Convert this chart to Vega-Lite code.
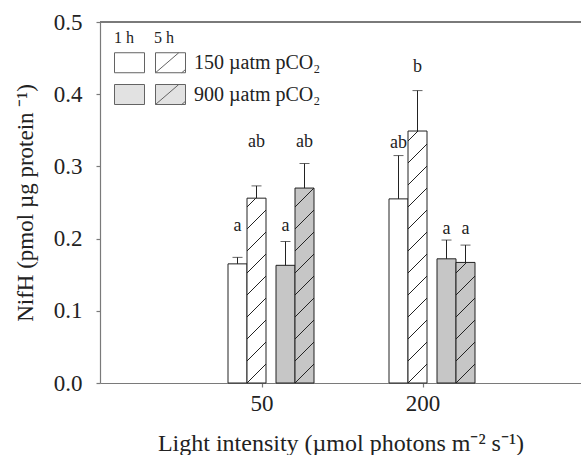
{
  "$schema": "https://vega.github.io/schema/vega-lite/v6.json",
  "width": 481,
  "height": 361,
  "autosize": {"type": "none"},
  "padding": {"left": 100, "top": 22, "right": 0, "bottom": 72},
  "background": "white",
  "config": {
    "view": {"stroke": null},
    "axis": {
      "domainColor": "#7a7a7a", "tickColor": "#7a7a7a", "tickSize": 4, "domainWidth": 1.2, "tickWidth": 1.2,
      "labelFont": "Liberation Serif", "labelFontSize": 23, "labelColor": "#222222",
      "titleFont": "Liberation Serif", "titleFontSize": 23, "titleFontWeight": "normal", "titleColor": "#222222",
      "grid": false
    }
  },
  "data": {"values": [
    {"light": "50", "co2": "150", "time": "1h", "group": "150_1", "value": 0.165, "upper": 0.174, "letter": "a", "ly": 0.21},
    {"light": "50", "co2": "150", "time": "5h", "group": "150_5", "value": 0.256, "upper": 0.273, "letter": "ab", "ly": 0.327},
    {"light": "50", "co2": "900", "time": "1h", "group": "900_1", "value": 0.163, "upper": 0.196, "letter": "a", "ly": 0.21},
    {"light": "50", "co2": "900", "time": "5h", "group": "900_5", "value": 0.270, "upper": 0.304, "letter": "ab", "ly": 0.327},
    {"light": "200", "co2": "150", "time": "1h", "group": "150_1", "value": 0.255, "upper": 0.315, "letter": "ab", "ly": 0.326},
    {"light": "200", "co2": "150", "time": "5h", "group": "150_5", "value": 0.349, "upper": 0.405, "letter": "b", "ly": 0.431},
    {"light": "200", "co2": "900", "time": "1h", "group": "900_1", "value": 0.172, "upper": 0.198, "letter": "a", "ly": 0.207},
    {"light": "200", "co2": "900", "time": "5h", "group": "900_5", "value": 0.167, "upper": 0.191, "letter": "a", "ly": 0.207}
  ]},
  "layer": [
    {
      "transform": [{"filter": "datum.co2 == '150'"}],
      "encoding": {
        "x": {"field": "light", "type": "nominal", "sort": ["50", "200"], "scale": {"paddingInner": 0, "paddingOuter": 0.4938, "align": 0.5126}, "axis": {"labelAngle": 0, "labelPadding": 5, "titlePadding": 16, "titleFontSize": 24}, "title": "Light intensity (µmol photons m⁻² s⁻¹)"},
        "y": {"field": "value", "type": "quantitative", "scale": {"domain": [0, 0.5], "nice": false, "zero": true}, "axis": {"values": [0, 0.1, 0.2, 0.3, 0.4, 0.5], "format": ".1f", "labelPadding": 14, "titlePadding": 16}, "title": "NifH (pmol µg protein ⁻¹)"},
        "xOffset": {"field": "time", "type": "nominal", "scale": {"domain": ["1h", "5h"], "range": [46.5, 84.5]}}
      },
      "layer": [
        {"transform": [{"filter": "datum.time == '1h'"}], "mark": {"type": "bar", "fill": "#ffffff", "stroke": "#222222", "strokeWidth": 1}},
        {"transform": [{"filter": "datum.time == '5h' && datum.light == '50'"}], "mark": {"type": "bar", "stroke": "#222222", "strokeWidth": 1,
          "fill": {"gradient": "linear", "x1": 0, "y1": 0, "x2": 0.1122, "y2": 1.0913, "stops": [
            {"offset": 0, "color": "#ffffff"},
            {"offset": 0.0394, "color": "#ffffff"}, {"offset": 0.0394, "color": "#222222"}, {"offset": 0.0472, "color": "#222222"}, {"offset": 0.0472, "color": "#ffffff"},
            {"offset": 0.1474, "color": "#ffffff"}, {"offset": 0.1474, "color": "#222222"}, {"offset": 0.1552, "color": "#222222"}, {"offset": 0.1552, "color": "#ffffff"},
            {"offset": 0.2553, "color": "#ffffff"}, {"offset": 0.2553, "color": "#222222"}, {"offset": 0.2631, "color": "#222222"}, {"offset": 0.2631, "color": "#ffffff"},
            {"offset": 0.3632, "color": "#ffffff"}, {"offset": 0.3632, "color": "#222222"}, {"offset": 0.3710, "color": "#222222"}, {"offset": 0.3710, "color": "#ffffff"},
            {"offset": 0.4712, "color": "#ffffff"}, {"offset": 0.4712, "color": "#222222"}, {"offset": 0.4790, "color": "#222222"}, {"offset": 0.4790, "color": "#ffffff"},
            {"offset": 0.5791, "color": "#ffffff"}, {"offset": 0.5791, "color": "#222222"}, {"offset": 0.5869, "color": "#222222"}, {"offset": 0.5869, "color": "#ffffff"},
            {"offset": 0.6870, "color": "#ffffff"}, {"offset": 0.6870, "color": "#222222"}, {"offset": 0.6948, "color": "#222222"}, {"offset": 0.6948, "color": "#ffffff"},
            {"offset": 0.7950, "color": "#ffffff"}, {"offset": 0.7950, "color": "#222222"}, {"offset": 0.8028, "color": "#222222"}, {"offset": 0.8028, "color": "#ffffff"},
            {"offset": 0.9029, "color": "#ffffff"}, {"offset": 0.9029, "color": "#222222"}, {"offset": 0.9107, "color": "#222222"}, {"offset": 0.9107, "color": "#ffffff"},
            {"offset": 1, "color": "#ffffff"}
          ]}}},
        {"transform": [{"filter": "datum.time == '5h' && datum.light == '200'"}], "mark": {"type": "bar", "stroke": "#222222", "strokeWidth": 1,
          "fill": {"gradient": "linear", "x1": 0, "y1": 0, "x2": 0.0806, "y2": 1.0693, "stops": [
            {"offset": 0, "color": "#ffffff"},
            {"offset": 0.0338, "color": "#ffffff"}, {"offset": 0.0338, "color": "#222222"}, {"offset": 0.0398, "color": "#222222"}, {"offset": 0.0398, "color": "#ffffff"},
            {"offset": 0.1150, "color": "#ffffff"}, {"offset": 0.1150, "color": "#222222"}, {"offset": 0.1210, "color": "#222222"}, {"offset": 0.1210, "color": "#ffffff"},
            {"offset": 0.1962, "color": "#ffffff"}, {"offset": 0.1962, "color": "#222222"}, {"offset": 0.2022, "color": "#222222"}, {"offset": 0.2022, "color": "#ffffff"},
            {"offset": 0.2774, "color": "#ffffff"}, {"offset": 0.2774, "color": "#222222"}, {"offset": 0.2834, "color": "#222222"}, {"offset": 0.2834, "color": "#ffffff"},
            {"offset": 0.3586, "color": "#ffffff"}, {"offset": 0.3586, "color": "#222222"}, {"offset": 0.3646, "color": "#222222"}, {"offset": 0.3646, "color": "#ffffff"},
            {"offset": 0.4398, "color": "#ffffff"}, {"offset": 0.4398, "color": "#222222"}, {"offset": 0.4458, "color": "#222222"}, {"offset": 0.4458, "color": "#ffffff"},
            {"offset": 0.5210, "color": "#ffffff"}, {"offset": 0.5210, "color": "#222222"}, {"offset": 0.5270, "color": "#222222"}, {"offset": 0.5270, "color": "#ffffff"},
            {"offset": 0.6021, "color": "#ffffff"}, {"offset": 0.6021, "color": "#222222"}, {"offset": 0.6081, "color": "#222222"}, {"offset": 0.6081, "color": "#ffffff"},
            {"offset": 0.6833, "color": "#ffffff"}, {"offset": 0.6833, "color": "#222222"}, {"offset": 0.6893, "color": "#222222"}, {"offset": 0.6893, "color": "#ffffff"},
            {"offset": 0.7645, "color": "#ffffff"}, {"offset": 0.7645, "color": "#222222"}, {"offset": 0.7705, "color": "#222222"}, {"offset": 0.7705, "color": "#ffffff"},
            {"offset": 0.8457, "color": "#ffffff"}, {"offset": 0.8457, "color": "#222222"}, {"offset": 0.8517, "color": "#222222"}, {"offset": 0.8517, "color": "#ffffff"},
            {"offset": 0.9269, "color": "#ffffff"}, {"offset": 0.9269, "color": "#222222"}, {"offset": 0.9329, "color": "#222222"}, {"offset": 0.9329, "color": "#ffffff"},
            {"offset": 1, "color": "#ffffff"}
          ]}}},
        {"mark": {"type": "rule", "color": "#222222", "strokeWidth": 1}, "encoding": {"y": {"field": "upper", "type": "quantitative", "title": "NifH (pmol µg protein ⁻¹)"}, "y2": {"field": "value"}}},
        {"mark": {"type": "tick", "color": "#222222", "size": 10, "thickness": 1, "orient": "horizontal"}, "encoding": {"y": {"field": "upper", "type": "quantitative", "title": "NifH (pmol µg protein ⁻¹)"}}},
        {"mark": {"type": "text", "font": "Liberation Serif", "fontSize": 18, "baseline": "alphabetic", "color": "#222222"}, "encoding": {"y": {"field": "ly", "type": "quantitative", "title": "NifH (pmol µg protein ⁻¹)"}, "text": {"field": "letter"}}},
        {"mark": {"type": "point", "filled": true, "size": 0, "stroke": "#222222", "strokeWidth": 1},
         "encoding": {
           "fill": {"field": "group", "type": "nominal", "scale": {"domain": ["150_1", "150_5", "900_1", "900_5"], "range": ["#ffffff", "#ffffff", "#c6c6c6", "#c6c6c6"]},
             "legend": {"title": "\u00a01\u00a0h\u00a0\u00a0\u00a0\u00a0\u00a05\u00a0h", "orient": "none", "legendX": 14, "legendY": 8, "columns": 2, "direction": "horizontal", "padding": 0,
               "symbolSize": 900, "symbolStrokeColor": "#222222", "symbolStrokeWidth": 1, "symbolOpacity": 1,
               "labelExpr": "datum.value == '150_5' ? '150 µatm pCO₂' : (datum.value == '900_5' ? '900 µatm pCO₂' : '')",
               "labelFont": "Liberation Serif", "labelFontSize": 20, "labelColor": "#222222", "labelOffset": 8,
               "titleFont": "Liberation Serif", "titleFontSize": 16, "titleFontWeight": "normal", "titleColor": "#222222", "titlePadding": 1,
               "columnPadding": 0, "rowPadding": 4}},
           "shape": {"field": "group", "type": "nominal", "scale": {"domain": ["150_1", "150_5", "900_1", "900_5"], "range": ["M-1,-0.6667H1V0.6667H-1Z", "M-1,-0.6667H1V0.6667H-1Z M-1,0.6667L0.55,-0.6667 M0.75,0.6667L1,0.45", "M-1,-0.6667H1V0.6667H-1Z", "M-1,-0.6667H1V0.6667H-1Z M-1,0.6667L0.55,-0.6667 M0.75,0.6667L1,0.45"]}}
         }}
      ]
    },
    {
      "transform": [{"filter": "datum.co2 == '900'"}],
      "encoding": {
        "x": {"field": "light", "type": "nominal", "sort": ["50", "200"], "scale": {"paddingInner": 0, "paddingOuter": 0.4938, "align": 0.5126}, "axis": {"labelAngle": 0, "labelPadding": 5, "titlePadding": 16, "titleFontSize": 24}, "title": "Light intensity (µmol photons m⁻² s⁻¹)"},
        "y": {"field": "value", "type": "quantitative", "scale": {"domain": [0, 0.5], "nice": false, "zero": true}, "axis": {"values": [0, 0.1, 0.2, 0.3, 0.4, 0.5], "format": ".1f", "labelPadding": 14, "titlePadding": 16}, "title": "NifH (pmol µg protein ⁻¹)"},
        "xOffset": {"field": "time", "type": "nominal", "scale": {"domain": ["1h", "5h"], "range": [94.5, 132.5]}}
      },
      "layer": [
        {"transform": [{"filter": "datum.time == '1h'"}], "mark": {"type": "bar", "fill": "#c6c6c6", "stroke": "#222222", "strokeWidth": 1}},
        {"transform": [{"filter": "datum.time == '5h' && datum.light == '50'"}], "mark": {"type": "bar", "stroke": "#222222", "strokeWidth": 1,
          "fill": {"gradient": "linear", "x1": 0, "y1": 0, "x2": 0.1060, "y2": 1.0871, "stops": [
            {"offset": 0, "color": "#c6c6c6"},
            {"offset": 0.0848, "color": "#c6c6c6"}, {"offset": 0.0848, "color": "#222222"}, {"offset": 0.0922, "color": "#222222"}, {"offset": 0.0922, "color": "#c6c6c6"},
            {"offset": 0.1877, "color": "#c6c6c6"}, {"offset": 0.1877, "color": "#222222"}, {"offset": 0.1951, "color": "#222222"}, {"offset": 0.1951, "color": "#c6c6c6"},
            {"offset": 0.2905, "color": "#c6c6c6"}, {"offset": 0.2905, "color": "#222222"}, {"offset": 0.2979, "color": "#222222"}, {"offset": 0.2979, "color": "#c6c6c6"},
            {"offset": 0.3933, "color": "#c6c6c6"}, {"offset": 0.3933, "color": "#222222"}, {"offset": 0.4007, "color": "#222222"}, {"offset": 0.4007, "color": "#c6c6c6"},
            {"offset": 0.4962, "color": "#c6c6c6"}, {"offset": 0.4962, "color": "#222222"}, {"offset": 0.5036, "color": "#222222"}, {"offset": 0.5036, "color": "#c6c6c6"},
            {"offset": 0.5990, "color": "#c6c6c6"}, {"offset": 0.5990, "color": "#222222"}, {"offset": 0.6064, "color": "#222222"}, {"offset": 0.6064, "color": "#c6c6c6"},
            {"offset": 0.7018, "color": "#c6c6c6"}, {"offset": 0.7018, "color": "#222222"}, {"offset": 0.7092, "color": "#222222"}, {"offset": 0.7092, "color": "#c6c6c6"},
            {"offset": 0.8047, "color": "#c6c6c6"}, {"offset": 0.8047, "color": "#222222"}, {"offset": 0.8121, "color": "#222222"}, {"offset": 0.8121, "color": "#c6c6c6"},
            {"offset": 0.9075, "color": "#c6c6c6"}, {"offset": 0.9075, "color": "#222222"}, {"offset": 0.9149, "color": "#222222"}, {"offset": 0.9149, "color": "#c6c6c6"},
            {"offset": 1, "color": "#c6c6c6"}
          ]}}},
        {"transform": [{"filter": "datum.time == '5h' && datum.light == '200'"}], "mark": {"type": "bar", "stroke": "#222222", "strokeWidth": 1,
          "fill": {"gradient": "linear", "x1": 0, "y1": 0, "x2": 0.1780, "y2": 1.1295, "stops": [
            {"offset": 0, "color": "#c6c6c6"},
            {"offset": 0.0700, "color": "#c6c6c6"}, {"offset": 0.0700, "color": "#222222"}, {"offset": 0.0814, "color": "#222222"}, {"offset": 0.0814, "color": "#c6c6c6"},
            {"offset": 0.2277, "color": "#c6c6c6"}, {"offset": 0.2277, "color": "#222222"}, {"offset": 0.2391, "color": "#222222"}, {"offset": 0.2391, "color": "#c6c6c6"},
            {"offset": 0.3853, "color": "#c6c6c6"}, {"offset": 0.3853, "color": "#222222"}, {"offset": 0.3967, "color": "#222222"}, {"offset": 0.3967, "color": "#c6c6c6"},
            {"offset": 0.5429, "color": "#c6c6c6"}, {"offset": 0.5429, "color": "#222222"}, {"offset": 0.5543, "color": "#222222"}, {"offset": 0.5543, "color": "#c6c6c6"},
            {"offset": 0.7005, "color": "#c6c6c6"}, {"offset": 0.7005, "color": "#222222"}, {"offset": 0.7119, "color": "#222222"}, {"offset": 0.7119, "color": "#c6c6c6"},
            {"offset": 0.8582, "color": "#c6c6c6"}, {"offset": 0.8582, "color": "#222222"}, {"offset": 0.8696, "color": "#222222"}, {"offset": 0.8696, "color": "#c6c6c6"},
            {"offset": 1, "color": "#c6c6c6"}
          ]}}},
        {"mark": {"type": "rule", "color": "#222222", "strokeWidth": 1}, "encoding": {"y": {"field": "upper", "type": "quantitative", "title": "NifH (pmol µg protein ⁻¹)"}, "y2": {"field": "value"}}},
        {"mark": {"type": "tick", "color": "#222222", "size": 10, "thickness": 1, "orient": "horizontal"}, "encoding": {"y": {"field": "upper", "type": "quantitative", "title": "NifH (pmol µg protein ⁻¹)"}}},
        {"mark": {"type": "text", "font": "Liberation Serif", "fontSize": 18, "baseline": "alphabetic", "color": "#222222"}, "encoding": {"y": {"field": "ly", "type": "quantitative", "title": "NifH (pmol µg protein ⁻¹)"}, "text": {"field": "letter"}}}
      ]
    },
    {"mark": {"type": "rule", "color": "#7a7a7a", "strokeWidth": 1.2}, "encoding": {"y": {"datum": 0.5, "type": "quantitative"}}}
  ],
  "resolve": {"scale": {"xOffset": "independent"}}
}
